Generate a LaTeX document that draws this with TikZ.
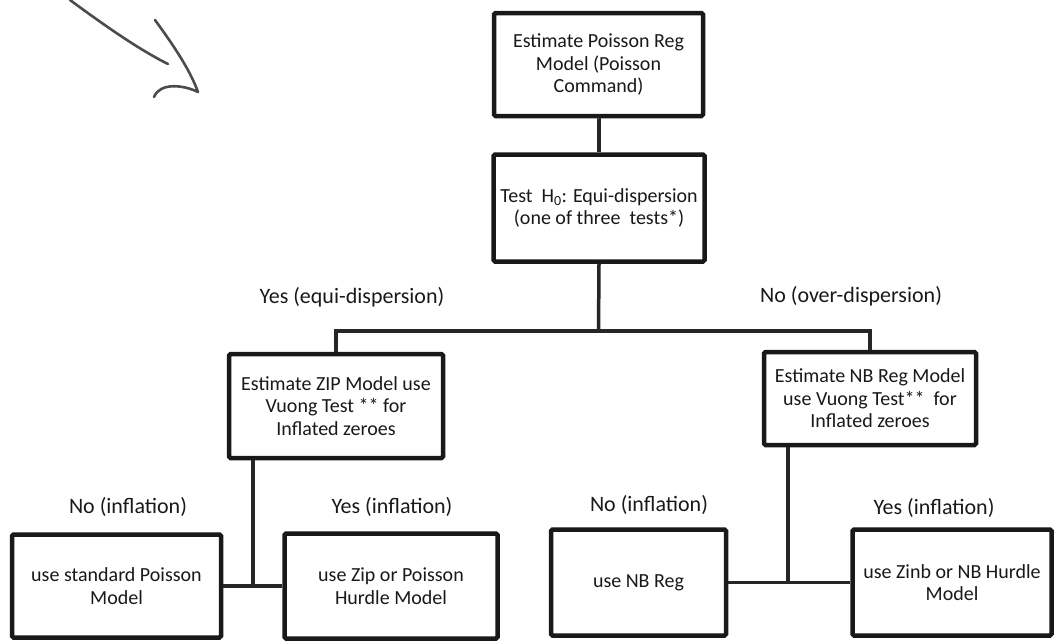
\documentclass[tikz,border=0pt]{standalone}
\usepackage{fontspec}
\setmainfont{Carlito}
\begin{document}
\begin{tikzpicture}[x=1pt,y=-1pt,
  box/.style={draw=black!90, line width=4.5pt, rounded corners=1.5pt, fill=white,
    align=center, font=\fontsize{20}{22.5}\selectfont, text=black!90, inner sep=1pt},
  lbl/.style={font=\fontsize{22}{25}\selectfont, text=black!90},
  conn/.style={draw=black!85, line width=3.5pt},
  pen/.style={draw=black!70, line width=2.6pt, line cap=round, line join=round}]
\useasboundingbox (0,0) rectangle (1056,643);

% hand-drawn arrow
\draw[pen] (70,0) .. controls (108,28) and (140,50) .. (168,64);
\draw[pen] (155,20) .. controls (174,46) and (190,70) .. (198,92)
           .. controls (184,85) and (160,82) .. (154,97);

% boxes
\node[box, minimum width=209pt, minimum height=103pt] (b1) at (598.5,64.5)
  {Estimate Poisson Reg\\Model (Poisson\\Command)};
\node[box, minimum width=211pt, minimum height=107pt] (b2) at (599,208)
  {Test\ \ H\textsubscript{0}: Equi-dispersion\\(one of three\ \ tests*)};
\node[box, minimum width=214pt, minimum height=104pt] (b3) at (336,406)
  {Estimate ZIP Model use\\Vuong Test ** for\\Inflated zeroes};
\node[box, minimum width=212pt, minimum height=93pt] (b4) at (870,398.5)
  {Estimate NB Reg Model\\use Vuong Test**\ \ for\\Inflated zeroes};
\node[box, minimum width=209pt, minimum height=103pt] (bA) at (116.5,586)
  {use standard Poisson\\Model};
\node[box, minimum width=213pt, minimum height=105pt] (bB) at (391,586)
  {use Zip or Poisson\\Hurdle Model};
\node[box, minimum width=175pt, minimum height=106pt] (bC) at (638.5,582.5)
  {use NB Reg};
\node[box, minimum width=199pt, minimum height=106pt] (bD) at (952,582.5)
  {use Zinb or NB Hurdle\\Model};

% labels
\node[lbl] (l1) at (352,297) {Yes (equi-dispersion)};
\node[lbl] (l2) at (851,296) {No (over-dispersion)};
\node[lbl] (l3) at (128,507) {No (inflation)};
\node[lbl] (l4) at (392,507) {Yes (inflation)};
\node[lbl] (l5) at (649,505) {No (inflation)};
\node[lbl] (l6) at (934,508) {Yes (inflation)};

% junctions
\coordinate (j1) at (598.5,331);
\coordinate (j2) at (253,586);
\coordinate (j3) at (788,582.5);

% connectors
\draw[conn] (b1.south) -- (b2.south |- b1.south) -- (b2.north);
\draw[conn] (b2.south) -- (j1);
\draw[conn] (b3.north) |- (j1) -| (b4.north);
\draw[conn] (b3.south -| j2) -- (j2);
\draw[conn] (bA.east) -- (bB.west);
\draw[conn] (b4.south -| j3) -- (j3);
\draw[conn] (bC.east) -- (bD.west);
\end{tikzpicture}
\end{document}
